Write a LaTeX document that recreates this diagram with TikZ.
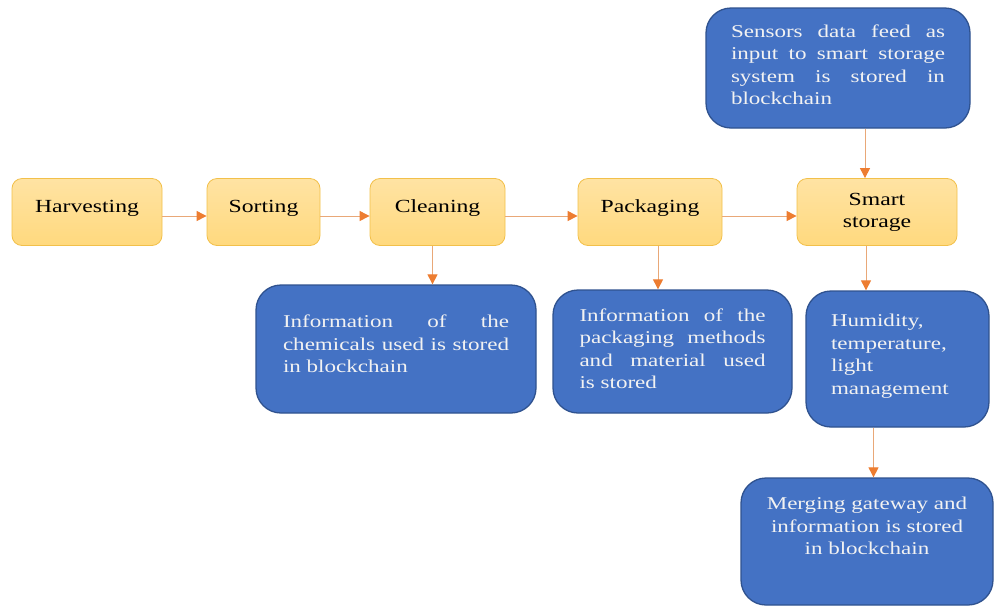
\documentclass[tikz,border=0pt]{standalone}
\usepackage{fontspec}
\setmainfont{Liberation Serif}[FakeStretch=1.28]
\usetikzlibrary{arrows.meta}

\definecolor{stepfill}{HTML}{FFD97E}
\definecolor{steptop}{HTML}{FFE3A3}
\definecolor{stepline}{HTML}{F2C04A}
\definecolor{infofill}{HTML}{4472C4}
\definecolor{infoline}{HTML}{2F528F}
\definecolor{flowline}{HTML}{E9A878}
\definecolor{flowhead}{HTML}{ED7D31}

\newcommand{\fillline}[1]{\makebox[\hsize][s]{#1}}

\tikzset{
  stepbox/.style={draw=stepline, line width=0.8pt, rounded corners=10pt,
    top color=steptop, bottom color=stepfill, minimum height=67pt,
    font=\fontsize{18.5}{22}\selectfont, text height=12pt, text depth=12pt},
  infobox/.style={draw=infoline, line width=1.3pt, rounded corners=25pt,
    fill=infofill, text=white!95!black,
    font=\fontsize{18}{22.5}\selectfont},
  flow/.style={draw=flowline, line width=1pt,
    -{Triangle[length=10pt,width=10pt,color=flowhead]}}
}

\begin{document}
\begin{tikzpicture}[x=1pt,y=1pt,yscale=-1]
\useasboundingbox (0,0) rectangle (995,606);

%Rounded Rect: process steps
\node [stepbox, minimum width=150pt] (harvest) at (87,212) {Harvesting};
\node [stepbox, minimum width=113pt] (sorting) at (263.5,212) {Sorting};
\node [stepbox, minimum width=135pt] (cleaning) at (437.5,212) {Cleaning};
\node [stepbox, minimum width=144pt] (packaging) at (650,212) {Packaging};
\node [stepbox, minimum width=160pt, align=center, text height=, text depth=] (smart) at (877,212) {Smart\\storage};

%Rounded Rect: blockchain information
\node [infobox, inner xsep=27pt, inner ysep=30pt] (chemicals) at (396,349)
  {\parbox[c][68pt][t]{226pt}{\fillline{Information of the}\\\fillline{chemicals used is stored}\\in blockchain}};
\node [infobox, inner xsep=26.5pt, inner ysep=18.5pt] (packinfo) at (672.5,351.5)
  {\parbox[c][86pt][t]{186pt}{\fillline{Information of the}\\\fillline{packaging methods}\\\fillline{and material used}\\is stored}};
\node [infobox, inner xsep=25pt, inner ysep=16.5pt] (sensors) at (838,68)
  {\parbox[c][87pt][t]{214pt}{\fillline{Sensors data feed as}\\\fillline{input to smart storage}\\\fillline{system is stored in}\\blockchain}};
\node [infobox, inner xsep=25pt, inner ysep=23.5pt] (humidity) at (897.5,359)
  {\parbox[c][89pt][t]{133pt}{Humidity,\\temperature,\\light\\management}};
\node [infobox, inner xsep=10pt, inner ysep=19pt] (merging) at (867,541.5)
  {\parbox[c][89pt][t]{232pt}{\centering Merging gateway and\\information is stored\\in blockchain}};

%Straight Lines: main flow
\draw [flow] ([yshift=4]harvest.east) -- ([yshift=4]sorting.west);
\draw [flow] ([yshift=4]sorting.east) -- ([yshift=4]cleaning.west);
\draw [flow] ([yshift=4]cleaning.east) -- ([yshift=4]packaging.west);
\draw [flow] ([yshift=4]packaging.east) -- ([yshift=4]smart.west);

%Straight Lines: to and from blockchain boxes
\draw [flow] ([xshift=-5]cleaning.south) -- ([xshift=-5]cleaning.south |- chemicals.north);
\draw [flow] ([xshift=8]packaging.south) -- ([xshift=8]packaging.south |- packinfo.north);
\draw [flow] ([xshift=-12]smart.north |- sensors.south) -- ([xshift=-12]smart.north);
\draw [flow] ([xshift=-11]smart.south) -- ([xshift=-11]smart.south |- humidity.north);
\draw [flow] ([xshift=-24]humidity.south) -- ([xshift=-24]humidity.south |- merging.north);

\end{tikzpicture}
\end{document}
